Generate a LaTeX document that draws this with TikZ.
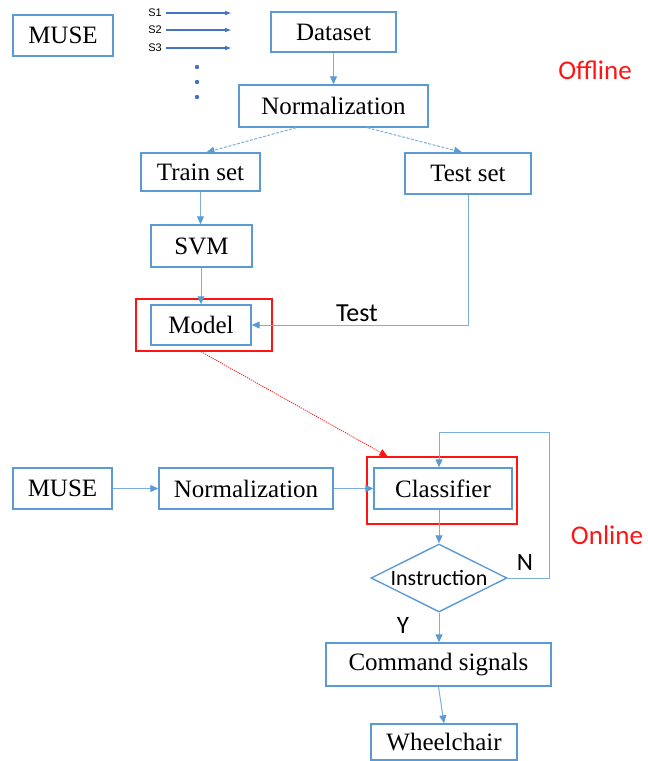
\documentclass[tikz,border=0pt]{standalone}
\usepackage{fontspec}
\setmainfont{Liberation Serif}
\newfontfamily\calfont{Carlito}
\newfontfamily\arialfont{Liberation Sans}
\usetikzlibrary{arrows.meta,shapes.geometric,calc}
\definecolor{boxblue}{RGB}{91,155,213}
\definecolor{lineblue}{RGB}{125,175,222}
\definecolor{sblue}{RGB}{68,114,196}
\definecolor{hotred}{RGB}{255,20,20}
\begin{document}
\begin{tikzpicture}[x=1pt,y=-1pt,
  box/.style={draw=boxblue, line width=1.4pt, inner sep=0pt, font=\fontsize{25}{30}\selectfont},
  redframe/.style={draw=hotred, line width=1.4pt, inner sep=0pt},
  conn/.style={draw=lineblue, line width=1pt, -{Triangle[length=8pt,width=7pt,color=boxblue]}},
  dconn/.style={conn, dash pattern=on 3pt off 1.5pt},
  rconn/.style={draw=hotred, line width=0.8pt, dash pattern=on 1.2pt off 1pt, -{Triangle[length=8pt,width=7pt,color=hotred]}},
  sarrow/.style={draw=sblue, line width=1.2pt, -{Triangle[length=6pt,width=4pt]}},
  slabel/.style={anchor=east, inner sep=0pt, font=\arialfont\fontsize{11}{12}\selectfont},
  cal/.style={inner sep=0pt, font=\calfont\fontsize{#1}{#1}\selectfont},
  phase/.style={inner sep=0pt, text=hotred, font=\calfont\fontsize{27}{30}\selectfont}
]
\useasboundingbox (0,0) rectangle (648,761);

% ---------- offline part ----------
\node[box, minimum width=100pt, minimum height=41pt] (muse1) at (63,35.5) {MUSE};

\node[slabel] (s1) at (162,13) {S1};
\node[slabel] (s2) at (162,30) {S2};
\node[slabel] (s3) at (162,48) {S3};
\coordinate (e1) at (231,13);
\coordinate (e2) at (231,30);
\coordinate (e3) at (231,48);
\draw[sarrow] ($(s1.east)+(4,0)$) -- (e1);
\draw[sarrow] ($(s2.east)+(4,0)$) -- (e2);
\draw[sarrow] ($(s3.east)+(4,0)$) -- (e3);
\foreach \yy in {67,82,97} \fill[sblue] (197,\yy) circle (2.2);

\node[box, minimum width=125pt, minimum height=40pt] (dataset) at (333.5,32) {Dataset};
\node[box, minimum width=189pt, minimum height=42pt] (norm1) at (333.5,106) {Normalization};
\node[box, minimum width=119pt, minimum height=38pt] (train) at (200.5,172) {Train set};
\node[box, minimum width=126pt, minimum height=41pt] (testset) at (468,173.5) {Test set};
\node[box, minimum width=101pt, minimum height=42pt] (svm) at (201.5,246) {SVM};
\node[box, minimum width=100pt, minimum height=40pt] (model) at (201,325) {Model};
\node[redframe, minimum width=136pt, minimum height=52pt] (modelred) at (204,325) {};

\node[phase] (offline) at (595,70) {Offline};

\draw[conn] (dataset.south) -- (norm1.north);
\draw[dconn] ($(norm1.south west)+(58,0)$) -- ($(train.north)+(6,0)$);
\draw[dconn] ($(norm1.south west)+(129,0)$) -- ($(testset.north)+(-6,0)$);
\draw[conn] (train.south) -- (train.south |- svm.north);
\draw[conn] (model.north |- svm.south) -- (model.north);
\draw[conn] (testset.south) |- (model.east);
\node[cal=26] (testlbl) at (357,313) {Test};

% ---------- online part ----------
\node[box, minimum width=99pt, minimum height=41pt] (muse2) at (62.5,488.5) {MUSE};
\node[box, minimum width=174pt, minimum height=41pt] (norm2) at (246,488.5) {Normalization};
\node[box, minimum width=138pt, minimum height=41pt] (classifier) at (443,488.5) {Classifier};
\node[redframe, minimum width=150pt, minimum height=67pt] (classred) at (442,490.5) {};
\node[draw=boxblue, line width=1.4pt, diamond, aspect=2, inner sep=0pt,
      minimum width=136pt, minimum height=68pt, font=\calfont\fontsize{22}{22}\selectfont]
      (dia) at (439,578) {Instruction};
\node[box, minimum width=225pt, minimum height=43pt] (command) at (438.5,664.5) {Command signals};
\node[box, minimum width=146pt, minimum height=36pt] (wheel) at (444,742) {Wheelchair};

\node[phase] (online) at (607,535) {Online};

\draw[rconn] (model.south |- modelred.south) -- ($(classred.north west)!0.14!(classred.north east)$);
\draw[conn] (muse2.east) -- (norm2.west);
\draw[conn] (norm2.east) -- (classifier.west);
\draw[conn] (dia.north |- classifier.south) -- (dia.north);
\coordinate (loopc) at (549,432);
\draw[conn] (dia.east) -| (loopc) -| (dia.north |- classifier.north);
\draw[conn] (dia.south) -- (command.north -| dia.south);
\draw[conn] (command.south) -- (wheel.north);

\node[cal=25] (nlbl) at (525,562) {N};
\node[cal=25] (ylbl) at (403,625) {Y};
\end{tikzpicture}
\end{document}
